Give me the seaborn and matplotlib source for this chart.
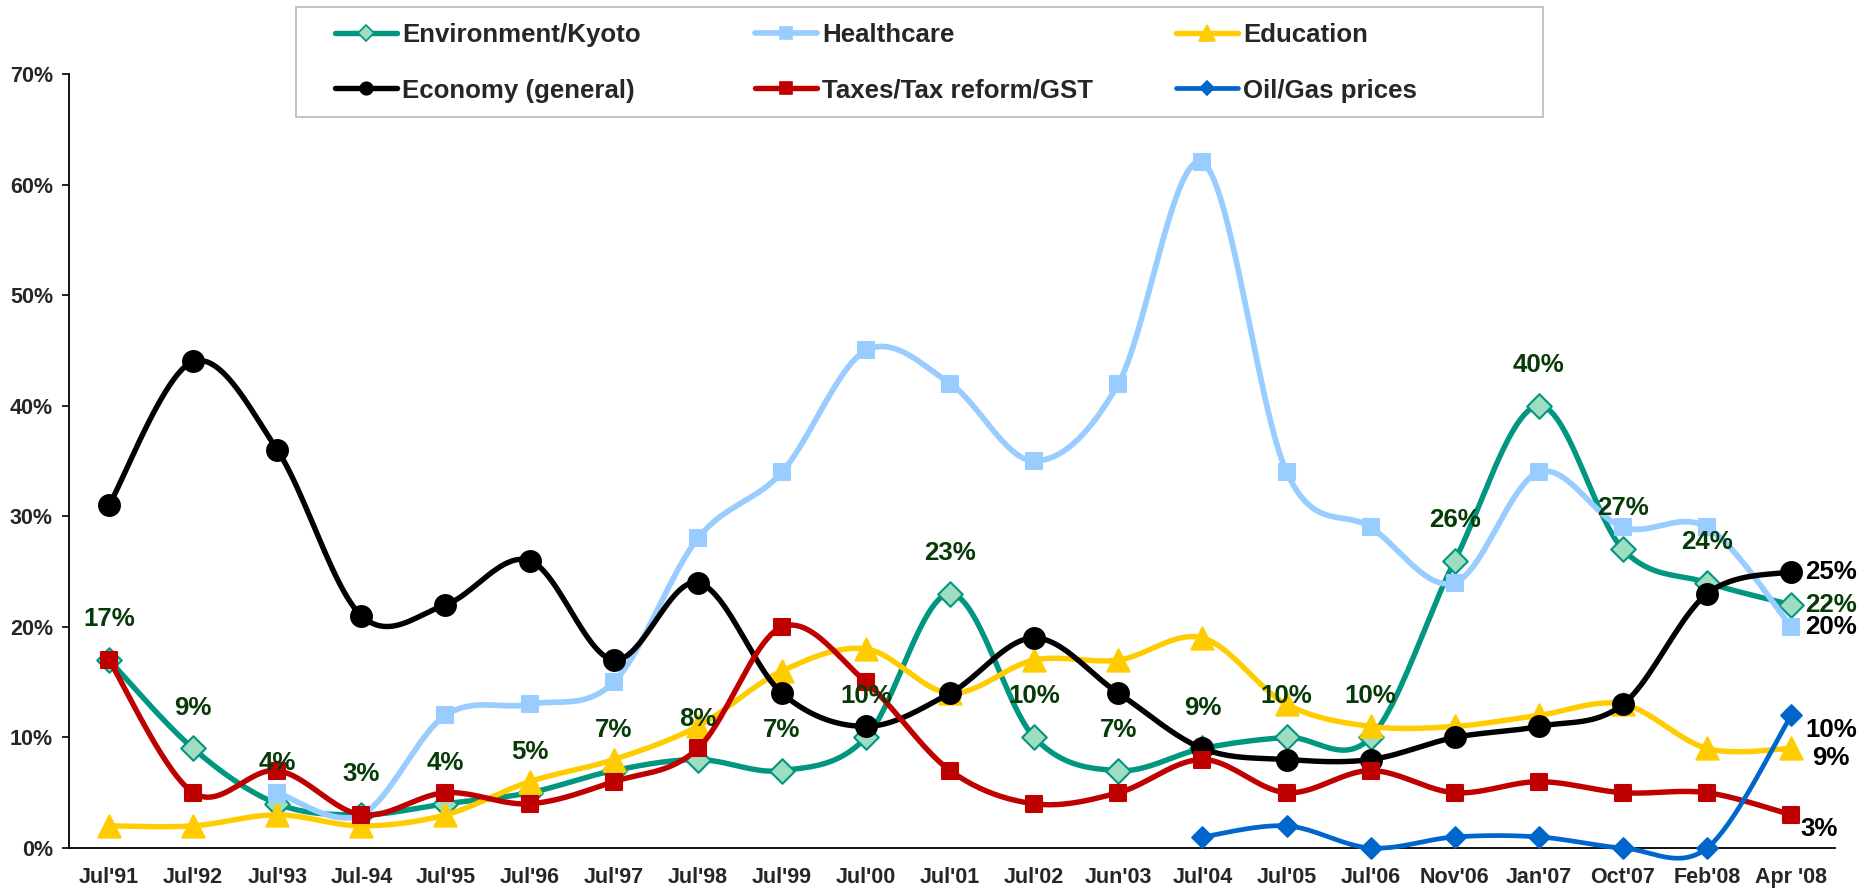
"""Issue tracking chart: most important issue facing the country, 1991-2008."""

import matplotlib
matplotlib.use("Agg")
import matplotlib.pyplot as plt
from matplotlib.lines import Line2D
from matplotlib.patches import Rectangle
import numpy as np
import seaborn as sns

nan = np.nan

periods = ["Jul'91", "Jul'92", "Jul'93", "Jul-94", "Jul'95", "Jul'96", "Jul'97", "Jul'98",
           "Jul'99", "Jul'00", "Jul'01", "Jul'02", "Jun'03", "Jul'04", "Jul'05", "Jul'06",
           "Nov'06", "Jan'07", "Oct'07", "Feb'08", "Apr '08"]

environment = [17, 9, 4, 3, 4, 5, 7, 8, 7, 10, 23, 10, 7, 9, 10, 10, 26, 40, 27, 24, 22]
healthcare = [nan, nan, 5, 3, 12, 13, 15, 28, 34, 45, 42, 35, 42, 62, 34, 29, 24, 34, 29, 29, 20]
education = [2, 2, 3, 2, 3, 6, 8, 11, 16, 18, 14, 17, 17, 19, 13, 11, 11, 12, 13, 9, 9]
economy = [31, 44, 36, 21, 22, 26, 17, 24, 14, 11, 14, 19, 14, 9, 8, 8, 10, 11, 13, 23, 25]
taxes = [17, 5, 7, 3, 5, 4, 6, 9, 20, 15, 7, 4, 5, 8, 5, 7, 5, 6, 5, 5, 3]
oil_gas = [nan] * 13 + [1, 2, 0, 1, 1, 0, 0, 12]

series_names = ["Environment/Kyoto", "Healthcare", "Education",
                "Economy (general)", "Taxes/Tax reform/GST", "Oil/Gas prices"]
end_labels = ["22%", "20%", "9%", "25%", "3%", "10%"]


def smooth(xs, ys, steps=24):
    # Excel-style smoothed line: cubic Bezier through the points
    pts = np.column_stack([xs, ys]).astype(float)
    n = len(pts)
    out = [pts[:1]]
    t = np.linspace(0, 1, steps)[1:, None]
    for i in range(n - 1):
        p0, p1 = pts[max(i - 1, 0)], pts[i]
        p2, p3 = pts[i + 1], pts[min(i + 2, n - 1)]
        c1 = p1 + (p2 - p0) / 6
        c2 = p2 - (p3 - p1) / 6
        out.append((1 - t) ** 3 * p1 + 3 * (1 - t) ** 2 * t * c1 + 3 * (1 - t) * t ** 2 * c2 + t ** 3 * p2)
    return np.vstack(out)


sns.set_theme(style="white")
plt.rcParams["font.family"] = ["Liberation Sans", "DejaVu Sans"]
plt.rcParams["font.weight"] = "bold"

styles = [
    dict(color="#009680", marker="D", ms=12.5, mfc="#9EDDC0", mec="#009680", lw=3.9, lms=8),
    dict(color="#99CCFF", marker="s", ms=12.0, mfc="#99CCFF", mec="#99CCFF", lw=4.1, lms=9),
    dict(color="#FFCC00", marker="^", ms=16.0, mfc="#FFCC00", mec="#FFCC00", lw=3.9, lms=11),
    dict(color="#000000", marker="o", ms=15.0, mfc="#000000", mec="#000000", lw=3.9, lms=9),
    dict(color="#BF0000", marker="s", ms=12.0, mfc="#BF0000", mec="#BF0000", lw=3.9, lms=9),
    dict(color="#0066CC", marker="D", ms=10.5, mfc="#0066CC", mec="#0066CC", lw=3.4, lms=7.5),
]
# offsets (px) of the value label next to the last point
end_offsets = [(14, 0), (14, 0), (21, -10), (14, 0), (9, -14), (14, -15)]
label_green = "#063A06"
label_size = 18.6

fig, ax = plt.subplots(figsize=(18.76, 8.93), dpi=100)
fig.subplots_adjust(left=69 / 1876, right=1835 / 1876, bottom=1 - 848 / 893, top=1 - 74 / 893)

all_series = [environment, healthcare, education, economy, taxes, oil_gas]
x_all = np.arange(len(periods))
handles = []
for k, (name, values, st) in enumerate(zip(series_names, all_series, styles)):
    vals = np.array(values, dtype=float)
    ok = ~np.isnan(vals)
    curve = smooth(x_all[ok], vals[ok])
    sns.lineplot(x=curve[:, 0], y=curve[:, 1], sort=False, estimator=None, color=st["color"],
                 lw=st["lw"], ax=ax, zorder=3 + k, clip_on=False, legend=False)
    sns.scatterplot(x=x_all[ok], y=vals[ok], marker=st["marker"], s=st["ms"] ** 2,
                    color=st["mfc"], edgecolor=st["mec"], linewidth=1.5, ax=ax,
                    zorder=3.5 + k, clip_on=False, legend=False)
    handles.append(Line2D([0], [0], color=st["color"], lw=st["lw"], marker=st["marker"],
                          ms=st["lms"], mfc=st["mfc"], mec=st["mec"], mew=1.2))
    last = np.flatnonzero(ok)[-1]
    dx, dy = end_offsets[k]
    ax.annotate(end_labels[k], (last, vals[last]), xytext=(dx * 0.72, dy * 0.72),
                textcoords="offset points", ha="left", va="center", fontsize=label_size,
                fontweight="bold", color=label_green if k == 0 else "black",
                zorder=20, annotation_clip=False)

# environment value labels above the points
for i, v in enumerate(environment[:-1]):
    ax.annotate(f"{v}%", (i, v), xytext=(0, 29.5), textcoords="offset points",
                ha="center", va="center", fontsize=label_size, fontweight="bold",
                color=label_green, zorder=20)

ax.set_xlim(-0.476, 20.52)
ax.set_ylim(0, 70)
ax.set_yticks(range(0, 71, 10))
ax.set_yticklabels([f"{t}%" for t in range(0, 71, 10)])
ax.set_xticks(x_all)
ax.set_xticklabels(periods)
ax.set_xlabel("")
ax.set_ylabel("")
ax.tick_params(axis="y", length=5, width=1.2, pad=6.5, labelsize=15.5, color="black", left=True)
ax.tick_params(axis="x", length=0, pad=14, labelsize=15.5)
for lab in ax.get_xticklabels() + ax.get_yticklabels():
    lab.set_fontweight("bold")
for side in ["top", "right"]:
    ax.spines[side].set_visible(False)
for side in ["left", "bottom"]:
    ax.spines[side].set_color("black")
    ax.spines[side].set_linewidth(1.3)

# legend: gray box with three columns of two entries
fig.add_artist(Rectangle((296 / 1876, 1 - 117 / 893), (1543 - 296) / 1876, (117 - 7) / 893,
                         transform=fig.transFigure, facecolor="white", edgecolor="#BFBFBF",
                         linewidth=1.3, zorder=2))
for col, xpix in enumerate([335, 755, 1176]):
    leg = fig.legend([handles[col], handles[col + 3]], [series_names[col], series_names[col + 3]],
                     loc="upper left", bbox_to_anchor=(xpix / 1876, 1 - 23 / 893),
                     bbox_transform=fig.transFigure, frameon=False, borderpad=0,
                     borderaxespad=0, handlelength=2.4, handletextpad=0.2,
                     labelspacing=1.22, prop={"size": label_size, "weight": "bold"})
    leg.set_zorder(3)

fig.savefig("out.png", dpi=100)
